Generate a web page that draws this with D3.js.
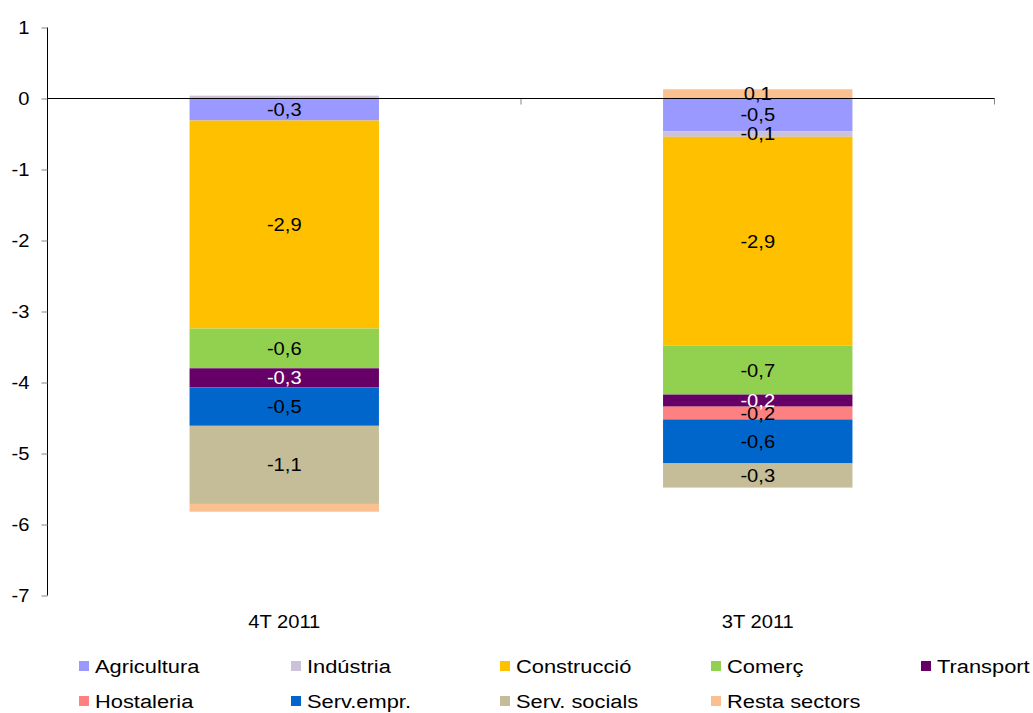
<!DOCTYPE html>
<html>
<head>
<meta charset="utf-8">
<script src="https://cdn.jsdelivr.net/npm/d3@7"></script>
<style>
  body { margin: 0; background: #fff; }
  svg { display: block; font-family: "Liberation Sans", Arial, sans-serif; }
</style>
</head>
<body>
<div id="chart"></div>
<script>
// Dades
const categories = ["4T 2011", "3T 2011"];
const sectors = ["Agricultura", "Indústria", "Construcció", "Comerç", "Transport",
                 "Hostaleria", "Serv.empr.", "Serv. socials", "Resta sectors"];
const colors = ["#9999FF", "#CCC1DA", "#FFC000", "#92D050", "#660066",
                "#FF8080", "#0066CC", "#C4BD97", "#FAC090"];
const labelColors = ["#000", "#000", "#000", "#000", "#fff", "#000", "#000", "#000", "#000"];
// valors per sector: [4T 2011, 3T 2011]
const agricultura = [-0.31, -0.46];
const industria = [0.04, -0.08];
const construccio = [-2.93, -2.94];
const comerc = [-0.56, -0.69];
const transport = [-0.27, -0.17];
const hostaleria = [0, -0.18];
const servEmpr = [-0.54, -0.62];
const servSocials = [-1.10, -0.34];
const resta = [-0.11, 0.13];
// etiquetes visibles (buit = sense etiqueta)
const labels4T = ["-0,3", "", "-2,9", "-0,6", "-0,3", "", "-0,5", "-1,1", ""];
const labels3T = ["-0,5", "-0,1", "-2,9", "-0,7", "-0,2", "-0,2", "-0,6", "-0,3", "0,1"];
const yTicks = [1, 0, -1, -2, -3, -4, -5, -6, -7];

const seriesValues = [agricultura, industria, construccio, comerc, transport,
                      hostaleria, servEmpr, servSocials, resta];
const labelText = [labels4T, labels3T];

const width = 1033, height = 713;
const margin = {top: 27.5, right: 38.5, bottom: 117.5, left: 47.5};
const plotW = width - margin.left - margin.right;
const plotH = height - margin.top - margin.bottom;
const SX = 1.12; // el text de l'original és una mica eixamplat

const svg = d3.select("#chart").append("svg")
    .attr("width", width)
    .attr("height", height);

const g = svg.append("g")
    .attr("transform", `translate(${margin.left},${margin.top})`);

const x = d3.scaleBand().domain(categories).range([0, plotW]).paddingInner(0.6).paddingOuter(0.3);
const y = d3.scaleLinear().domain([-7, 1]).range([plotH, 0]);

// text eixamplat horitzontalment
function addText(parent, tx, ty, str, size, anchor, fill, sx) {
    return parent.append("text")
        .attr("transform", `translate(${tx},${ty}) scale(${sx || SX},1)`)
        .attr("dy", "0.36em")
        .attr("text-anchor", anchor)
        .attr("fill", fill || "#000")
        .style("font-size", size + "px")
        .text(str);
}

// Apilament: positius cap amunt, negatius cap avall
const segments = [];
categories.forEach((cat, ci) => {
    let pos = 0, neg = 0;
    seriesValues.forEach((vals, si) => {
        const v = vals[ci];
        let y0, y1;
        if (v >= 0) { y0 = pos; y1 = pos + v; pos = y1; }
        else { y0 = neg; y1 = neg + v; neg = y1; }
        segments.push({cat, ci, si, v, y0, y1, label: labelText[ci][si]});
    });
});

g.selectAll("rect.seg")
    .data(segments.filter(d => d.v !== 0))
    .enter().append("rect")
    .attr("class", "seg")
    .attr("x", d => x(d.cat))
    .attr("width", x.bandwidth())
    .attr("y", d => y(Math.max(d.y0, d.y1)))
    .attr("height", d => Math.abs(y(d.y0) - y(d.y1)))
    .attr("fill", d => colors[d.si]);

// Eix Y
const yAxis = g.append("g")
    .call(d3.axisLeft(y).tickValues(yTicks).tickSize(6).tickFormat(""));
yAxis.select(".domain").attr("stroke", "#000").attr("d", `M0,0V${plotH}`);
yAxis.selectAll(".tick line").attr("stroke", "#868686");
yTicks.forEach(t => addText(g, -18, y(t), String(t), 18, "end"));

// Línia del zero amb marques de categoria
const zeroY = y(0);
const step = plotW / categories.length;
d3.range(1, categories.length + 1).forEach(i => {
    g.append("line")
        .attr("x1", i * step).attr("x2", i * step)
        .attr("y1", zeroY).attr("y2", zeroY + 6)
        .attr("stroke", "#868686");
});
g.append("line")
    .attr("x1", 0).attr("x2", plotW)
    .attr("y1", zeroY).attr("y2", zeroY)
    .attr("stroke", "#000");

// Etiquetes de dades
segments.filter(d => d.label).forEach(d => {
    addText(g, x(d.cat) + x.bandwidth() / 2, y((d.y0 + d.y1) / 2), d.label, 18, "middle", labelColors[d.si]);
});

// Etiquetes de categoria
categories.forEach(c => addText(g, x(c) + x.bandwidth() / 2, plotH + 26, c, 18, "middle"));

// Llegenda
const legend = svg.append("g");
const legCols = [79, 291, 500, 711, 921];
const legRows = [666, 701];
sectors.forEach((s, i) => {
    const col = i % 5, row = Math.floor(i / 5);
    const item = legend.append("g")
        .attr("transform", `translate(${legCols[col]},${legRows[row]})`);
    item.append("rect")
        .attr("x", 0).attr("y", -5)
        .attr("width", 10).attr("height", 10)
        .attr("fill", colors[i]);
    addText(item, 16, 0, s, 19, "start", "#000", 1.15);
});
</script>
</body>
</html>
